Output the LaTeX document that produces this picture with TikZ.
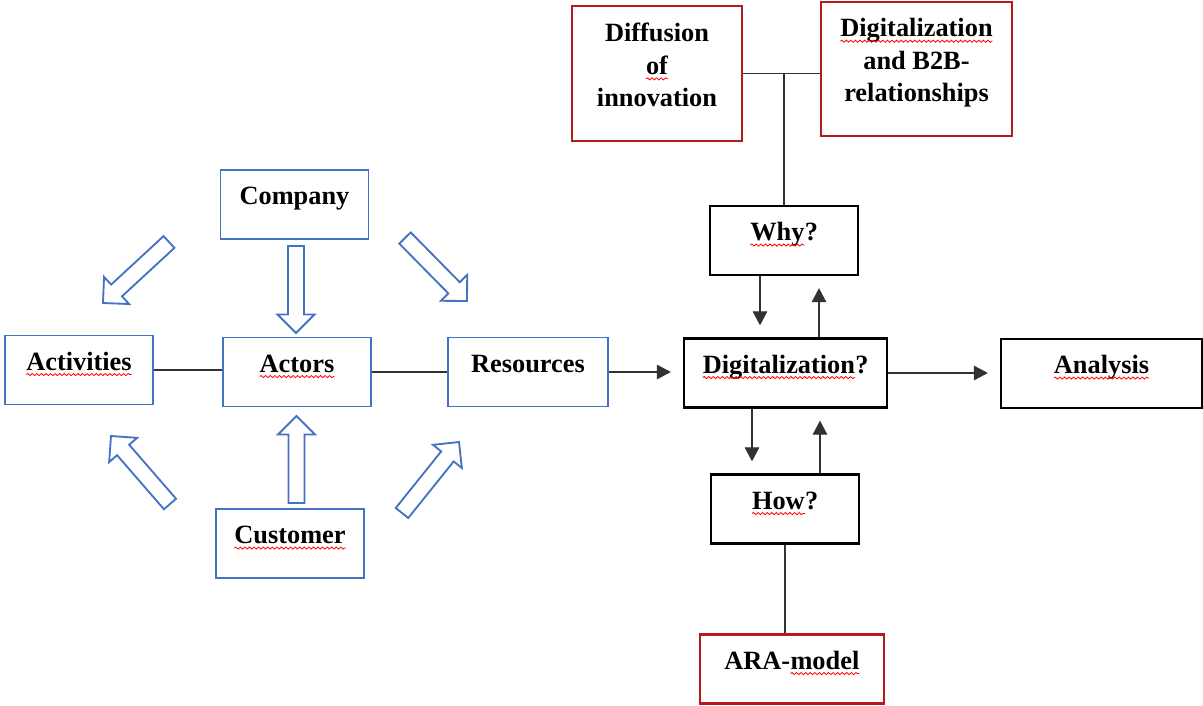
\documentclass[tikz,border=0pt]{standalone}
\usepackage{fontspec}
\setmainfont{Liberation Serif}
\usetikzlibrary{arrows.meta,positioning,calc,decorations.pathmorphing}

\definecolor{boxblue}{RGB}{68,114,196}
\definecolor{boxred}{RGB}{180,28,28}
\definecolor{linegray}{RGB}{50,50,50}

\tikzset{
  spelltext/.style={draw=none, fill=none, inner sep=0pt, outer sep=0pt, minimum width=0pt,
    minimum height=0pt, text height={}, text depth={}, line width=0.4pt},
  squig/.style={draw=red, line width=0.45pt, decorate,
    decoration={snake, amplitude=0.6pt, segment length=2.6pt}}
}

% red wavy spell-check underline
\newcommand{\spell}[1]{\tikz[baseline=(spellword.base)]{\node[spelltext] (spellword) {#1};
  \draw[squig] ([yshift=-2.6pt]spellword.base west) -- ([yshift=-2.6pt]spellword.base east);}}

% hollow block arrow from #1 to #2
\newcommand{\blockarrow}[2]{%
  \coordinate (ba-base) at ($(#2)!0.37cm!(#1)$);
  \draw[barrow] ($(#1)!0.16cm!90:(#2)$) -- ($(ba-base)!0.16cm!90:(#2)$)
    -- ($(ba-base)!0.37cm!90:(#2)$) -- (#2) -- ($(ba-base)!0.37cm!-90:(#2)$)
    -- ($(ba-base)!0.16cm!-90:(#2)$) -- ($(#1)!0.16cm!-90:(#2)$) -- cycle;}

\begin{document}
\begin{tikzpicture}[
  x=0.02cm, y=-0.02cm,
  font=\fontsize{15}{18.5}\selectfont\bfseries,
  box/.style={draw, line width=1.3pt, inner sep=0pt, text height=0.69cm, text depth=0.69cm, minimum width=2.96cm},
  bluebox/.style={box, draw=boxblue, line width=1.05pt},
  blackbox/.style={box, draw=black},
  redbox/.style={box, draw=boxred},
  tallbox/.style={draw=boxred, line width=1.3pt, inner sep=0pt, align=center},
  line/.style={draw=linegray, line width=0.65pt},
  arr/.style={line, -{Triangle[length=0.28cm, width=0.29cm]}, shorten >=0.24cm},
  barrow/.style={draw=boxblue, line width=1.05pt, fill=white}
]
\useasboundingbox (0,0) rectangle (1203,706);

% ---------- ARA side ----------
\node[bluebox] (company) at (294.5,204.5) {Company};
\node[bluebox] (activities) at (79,370) {\spell{Activities}};
\node[bluebox] (actors) at (297,372) {\spell{Actors}};
\node[bluebox, minimum width=3.2cm] (resources) at (528,372) {Resources};
\node[bluebox] (customer) at (290,543.5) {\spell{Customer}};

\draw[line] (activities.east) -- (activities.east -| actors.west);
\draw[line] (actors.east) -- (actors.east -| resources.west);

% ---------- Block arrows ----------
\coordinate (cmp-dn-s) at (296,246);  \coordinate (cmp-dn-e) at (296,333);
\coordinate (cus-up-s) at (296.5,503); \coordinate (cus-up-e) at (296.5,416);
\coordinate (cmp-act-s) at (169,242); \coordinate (cmp-act-e) at (103,303);
\coordinate (cmp-res-s) at (405,238); \coordinate (cmp-res-e) at (467,301);
\coordinate (cus-act-s) at (170,504); \coordinate (cus-act-e) at (111,436);
\coordinate (cus-res-s) at (402,513); \coordinate (cus-res-e) at (459,442);
\blockarrow{cmp-dn-s}{cmp-dn-e}
\blockarrow{cus-up-s}{cus-up-e}
\blockarrow{cmp-act-s}{cmp-act-e}
\blockarrow{cmp-res-s}{cmp-res-e}
\blockarrow{cus-act-s}{cus-act-e}
\blockarrow{cus-res-s}{cus-res-e}

% ---------- Theory boxes ----------
\node[tallbox, minimum width=3.4cm, minimum height=2.7cm, text depth=0.34cm] (diffusion) at (657,73.5)
  {Diffusion\\\spell{of}\\innovation};
\node[tallbox, minimum width=3.82cm, minimum height=2.68cm, text depth=0.36cm] (btob) at (916.5,69)
  {\spell{Digitalization}\\and B2B-\\relationships};

% ---------- Questions ----------
\node[blackbox] (why) at (784,240.5) {\spell{Why}?};
\node[blackbox, minimum width=4.06cm] (digit) at (785.5,373) {\spell{Digitalization}?};
\node[blackbox, minimum width=4.02cm] (analysis) at (1101.5,373.5) {\spell{Analysis}};
\node[blackbox] (how) at (785,509) {\spell{How}?};
\node[redbox, minimum width=3.68cm] (ara) at (792,669) {ARA-\spell{model}};

% ---------- Connectors ----------
\draw[line] (diffusion.east) -- (diffusion.east -| btob.west);
\draw[line] (why.north) -- (why.north |- diffusion.east);
\draw[line] (how.south) -- (how.south |- ara.north);

\draw[arr] (resources.east) -- (resources.east -| digit.west);
\draw[arr] (digit.east) -- (digit.east -| analysis.west);
\draw[arr] ([xshift=-0.48cm]why.south) -- ([xshift=-0.48cm]why.south |- digit.north);
\draw[arr] ([xshift=0.67cm]digit.north) -- ([xshift=0.67cm]digit.north |- why.south);
\draw[arr] ([xshift=-0.67cm]digit.south) -- ([xshift=-0.67cm]digit.south |- how.north);
\draw[arr] ([xshift=0.70cm]how.north) -- ([xshift=0.70cm]how.north |- digit.south);
\end{tikzpicture}
\end{document}
